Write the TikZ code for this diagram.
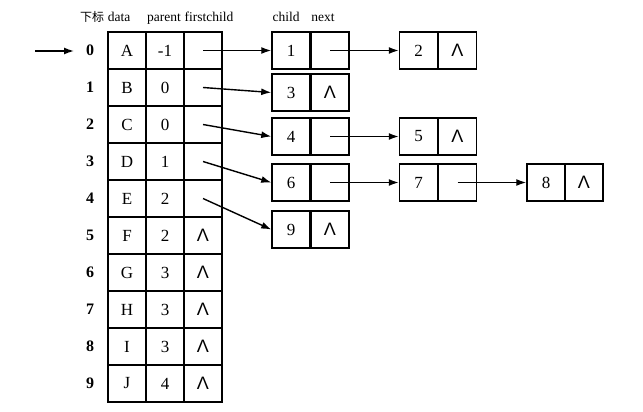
\documentclass[tikz,border=0pt]{standalone}
\usepackage{fontspec}
\setmainfont{Liberation Serif}
\newfontfamily\cjk{Noto Sans CJK SC}
\newfontfamily\nilfamily{Liberation Sans}
\usetikzlibrary{arrows.meta}
\newcommand\nul{{\nilfamily\fontsize{18}{18}\selectfont Λ}}
\begin{document}
\begin{tikzpicture}[x=1pt,y=-1pt,
  cell/.style={draw, line width=1.5pt, minimum width=38pt, minimum height=37pt, inner sep=0pt, font=\fontsize{17}{17}\selectfont},
  idx/.style={inner sep=0pt, font=\fontsize{16}{16}\selectfont\bfseries},
  hdr/.style={inner sep=0pt, anchor=base, font=\fontsize{13.5}{13.5}\selectfont},
  arr/.style={-{Latex[length=10pt,width=7pt]}, line width=1.4pt}]
\useasboundingbox (0,0) rectangle (643,412);
% headers
\node[hdr] (h0) at (92,22) {\cjk\fontsize{12}{12}\selectfont 下标};
\node[hdr] (h1) at (119,22) {data};
\node[hdr] (h2) at (164,22) {parent};
\node[hdr] (h3) at (209,22) {firstchild};
\node[hdr] (h4) at (286,22) {child};
\node[hdr] (h5) at (323,22) {next};
% table
\foreach \i/\d/\p/\f in {0/A/-1/,1/B/0/,2/C/0/,3/D/1/,4/E/2/,5/F/2/\nul,6/G/3/\nul,7/H/3/\nul,8/I/3/\nul,9/J/4/\nul}{
  \node[idx] (i\i) at (90,50.5+37*\i) {\i};
  \node[cell] (d\i) at (127,50.5+37*\i) {\d};
  \node[cell] (p\i) at (165,50.5+37*\i) {\p};
  \node[cell] (f\i) at (203,50.5+37*\i) {\f};
}
% child lists
\node[cell] (c1) at (291,50.5) {1};  \node[cell] (n1) at (330,50.5) {};
\node[cell] (c2) at (418.5,50.5) {2};  \node[cell] (n2) at (457.5,50.5) {\nul};
\node[cell] (c3) at (291,92.5) {3};  \node[cell] (n3) at (330,92.5) {\nul};
\node[cell] (c4) at (291,136.5) {4};  \node[cell] (n4) at (330,136.5) {};
\node[cell] (c5) at (418.5,136.5) {5};  \node[cell] (n5) at (457.5,136.5) {\nul};
\node[cell] (c6) at (291,182.5) {6};  \node[cell] (n6) at (330,182.5) {};
\node[cell] (c7) at (418.5,182.5) {7};  \node[cell] (n7) at (457.5,182.5) {};
\node[cell] (c8) at (546,182.5) {8};  \node[cell] (n8) at (584,182.5) {\nul};
\node[cell] (c9) at (291,229.5) {9};  \node[cell] (n9) at (330,229.5) {\nul};
% arrows
\coordinate (s) at (35,51);
\coordinate (e) at (74,51);
\draw[arr] (s) -- (e);
\draw[arr] (f0.center) -- (c1.west);
\draw[arr] (f1.center) -- (c3.west);
\draw[arr] (f2.center) -- (c4.west);
\draw[arr] (f3.center) -- (c6.west);
\draw[arr] (f4.center) -- (c9.west);
\draw[arr] (n1.center) -- (c2.west);
\draw[arr] (n4.center) -- (c5.west);
\draw[arr] (n6.center) -- (c7.west);
\draw[arr] (n7.center) -- (c8.west);
\end{tikzpicture}
\end{document}
